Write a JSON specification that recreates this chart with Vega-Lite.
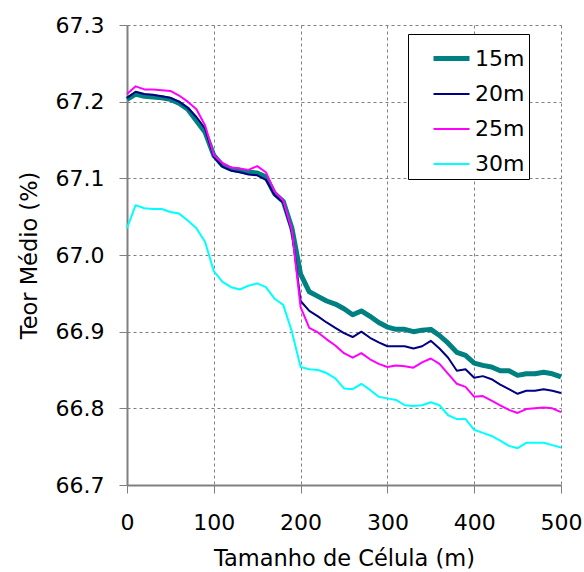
{
  "$schema": "https://vega.github.io/schema/vega-lite/v6.json",
  "width": 434,
  "height": 460,
  "autosize": "none",
  "padding": {"left": 127, "top": 25, "right": 23, "bottom": 87},
  "background": "white",
  "config": {
    "view": {"stroke": null},
    "font": "DejaVu Sans",
    "axis": {
      "labelFont": "DejaVu Sans",
      "titleFont": "DejaVu Sans",
      "labelFontSize": 22,
      "titleFontSize": 22.5,
      "labelColor": "black",
      "titleColor": "black",
      "titleFontWeight": "normal",
      "domainColor": "#808080",
      "domainWidth": 2,
      "tickColor": "#808080",
      "tickWidth": 1,
      "tickSize": 8,
      "gridColor": "#808080",
      "gridDash": [3, 3],
      "gridWidth": 1
    }
  },
  "data": {
    "values": [
      {"x": 0, "15m": 67.203, "20m": 67.205, "25m": 67.21, "30m": 67.035},
      {"x": 10, "15m": 67.21, "20m": 67.213, "25m": 67.22, "30m": 67.065},
      {"x": 20, "15m": 67.207, "20m": 67.21, "25m": 67.216, "30m": 67.061},
      {"x": 30, "15m": 67.206, "20m": 67.209, "25m": 67.216, "30m": 67.06},
      {"x": 40, "15m": 67.205, "20m": 67.207, "25m": 67.215, "30m": 67.06},
      {"x": 50, "15m": 67.203, "20m": 67.205, "25m": 67.214, "30m": 67.056},
      {"x": 60, "15m": 67.198, "20m": 67.2, "25m": 67.208, "30m": 67.054},
      {"x": 70, "15m": 67.19, "20m": 67.192, "25m": 67.2, "30m": 67.045},
      {"x": 80, "15m": 67.175, "20m": 67.18, "25m": 67.19, "30m": 67.035},
      {"x": 90, "15m": 67.16, "20m": 67.165, "25m": 67.169, "30m": 67.017},
      {"x": 100, "15m": 67.13, "20m": 67.128, "25m": 67.13, "30m": 66.979},
      {"x": 110, "15m": 67.117, "20m": 67.115, "25m": 67.12, "30m": 66.965},
      {"x": 120, "15m": 67.112, "20m": 67.11, "25m": 67.114, "30m": 66.958},
      {"x": 130, "15m": 67.11, "20m": 67.108, "25m": 67.113, "30m": 66.955},
      {"x": 140, "15m": 67.108, "20m": 67.105, "25m": 67.111, "30m": 66.96},
      {"x": 150, "15m": 67.107, "20m": 67.104, "25m": 67.116, "30m": 66.963},
      {"x": 160, "15m": 67.102, "20m": 67.098, "25m": 67.108, "30m": 66.958},
      {"x": 170, "15m": 67.08, "20m": 67.078, "25m": 67.083, "30m": 66.943},
      {"x": 180, "15m": 67.07, "20m": 67.068, "25m": 67.071, "30m": 66.935},
      {"x": 190, "15m": 67.035, "20m": 67.03, "25m": 67.032, "30m": 66.9},
      {"x": 200, "15m": 66.975, "20m": 66.94, "25m": 66.932, "30m": 66.854},
      {"x": 210, "15m": 66.952, "20m": 66.927, "25m": 66.905, "30m": 66.851},
      {"x": 220, "15m": 66.946, "20m": 66.92, "25m": 66.899, "30m": 66.85},
      {"x": 230, "15m": 66.94, "20m": 66.912, "25m": 66.89, "30m": 66.846},
      {"x": 240, "15m": 66.936, "20m": 66.905, "25m": 66.882, "30m": 66.839},
      {"x": 250, "15m": 66.93, "20m": 66.898, "25m": 66.872, "30m": 66.826},
      {"x": 260, "15m": 66.922, "20m": 66.893, "25m": 66.866, "30m": 66.825},
      {"x": 270, "15m": 66.927, "20m": 66.9, "25m": 66.872, "30m": 66.832},
      {"x": 280, "15m": 66.92, "20m": 66.892, "25m": 66.864, "30m": 66.824},
      {"x": 290, "15m": 66.912, "20m": 66.886, "25m": 66.858, "30m": 66.815},
      {"x": 300, "15m": 66.906, "20m": 66.881, "25m": 66.854, "30m": 66.813},
      {"x": 310, "15m": 66.903, "20m": 66.881, "25m": 66.856, "30m": 66.811},
      {"x": 320, "15m": 66.903, "20m": 66.881, "25m": 66.855, "30m": 66.804},
      {"x": 330, "15m": 66.9, "20m": 66.878, "25m": 66.853, "30m": 66.803},
      {"x": 340, "15m": 66.902, "20m": 66.881, "25m": 66.86, "30m": 66.804},
      {"x": 350, "15m": 66.903, "20m": 66.888, "25m": 66.865, "30m": 66.808},
      {"x": 360, "15m": 66.895, "20m": 66.878, "25m": 66.858, "30m": 66.804},
      {"x": 370, "15m": 66.885, "20m": 66.866, "25m": 66.845, "30m": 66.791},
      {"x": 380, "15m": 66.873, "20m": 66.849, "25m": 66.832, "30m": 66.786},
      {"x": 390, "15m": 66.869, "20m": 66.851, "25m": 66.828, "30m": 66.786},
      {"x": 400, "15m": 66.859, "20m": 66.84, "25m": 66.815, "30m": 66.772},
      {"x": 410, "15m": 66.856, "20m": 66.842, "25m": 66.816, "30m": 66.768},
      {"x": 420, "15m": 66.854, "20m": 66.838, "25m": 66.81, "30m": 66.764},
      {"x": 430, "15m": 66.849, "20m": 66.831, "25m": 66.804, "30m": 66.758},
      {"x": 440, "15m": 66.849, "20m": 66.825, "25m": 66.798, "30m": 66.751},
      {"x": 450, "15m": 66.843, "20m": 66.819, "25m": 66.794, "30m": 66.748},
      {"x": 460, "15m": 66.845, "20m": 66.823, "25m": 66.799, "30m": 66.755},
      {"x": 470, "15m": 66.845, "20m": 66.823, "25m": 66.8, "30m": 66.755},
      {"x": 480, "15m": 66.847, "20m": 66.825, "25m": 66.801, "30m": 66.755},
      {"x": 490, "15m": 66.845, "20m": 66.823, "25m": 66.8, "30m": 66.752},
      {"x": 500, "15m": 66.841, "20m": 66.82, "25m": 66.795, "30m": 66.749}
    ]
  },
  "transform": [
    {"fold": ["15m", "20m", "25m", "30m"], "as": ["serie", "valor"]}
  ],
  "mark": {"type": "line", "strokeJoin": "round", "strokeCap": "butt"},
  "encoding": {
    "x": {
      "field": "x",
      "type": "quantitative",
      "scale": {"domain": [0, 500], "nice": false},
      "axis": {
        "title": "Tamanho de Célula (m)",
        "values": [0, 100, 200, 300, 400, 500],
        "labelPadding": 19,
        "titlePadding": 14,
        "labelFlush": false,
        "grid": true
      }
    },
    "y": {
      "field": "valor",
      "type": "quantitative",
      "scale": {"domain": [66.7, 67.3], "nice": false, "zero": false},
      "axis": {
        "title": "Teor Médio (%)",
        "values": [66.7, 66.8, 66.9, 67.0, 67.1, 67.2, 67.3],
        "format": ".1f",
        "labelPadding": 15,
        "titlePadding": 14,
        "labelFlush": false,
        "grid": true
      }
    },
    "color": {
      "field": "serie",
      "type": "nominal",
      "scale": {"domain": ["15m", "20m", "25m", "30m"], "range": ["#008080", "#000080", "#FF00FF", "#00FFFF"]},
      "legend": {
        "title": null,
        "orient": "none",
        "legendX": 281,
        "legendY": 9,
        "fillColor": "white",
        "strokeColor": "black",
        "padding": 4,
        "symbolType": "stroke",
        "symbolSize": 1296,
        "symbolOffset": 19,
        "labelFont": "DejaVu Sans",
        "labelFontSize": 22,
        "labelColor": "black",
        "labelOffset": 3,
        "rowPadding": 5,
        "encode": {
          "symbols": {
            "update": {
              "strokeWidth": {"signal": "datum.value === '15m' ? 5 : 2"}
            }
          }
        }
      }
    },
    "strokeWidth": {
      "field": "serie",
      "type": "nominal",
      "scale": {"type": "ordinal", "domain": ["15m", "20m", "25m", "30m"], "range": [5, 2, 2, 2]},
      "legend": null
    }
  }
}
